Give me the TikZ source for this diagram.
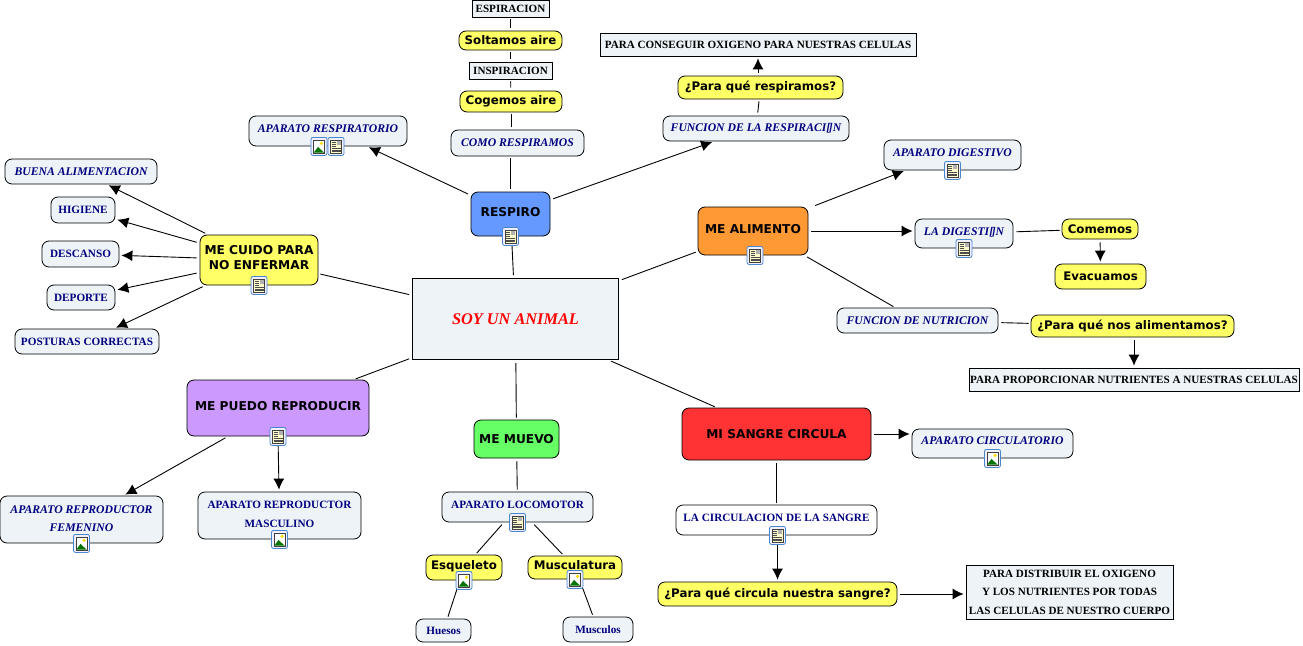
\documentclass[tikz,border=0pt]{standalone}
\usepackage{fontspec}
\setmainfont{Liberation Serif}
\setsansfont{DejaVu Sans}
\usetikzlibrary{arrows.meta,positioning}
\definecolor{mmpale}{HTML}{EDF3F6}
\definecolor{mmnavy}{HTML}{000080}
\definecolor{mmyellow}{HTML}{FFFF66}
\definecolor{mmblue}{HTML}{6699FF}
\definecolor{mmorange}{HTML}{FF9933}
\definecolor{mmpurple}{HTML}{CC99FF}
\definecolor{mmgreen}{HTML}{66FF66}
\definecolor{mmred}{HTML}{FF3333}
\definecolor{mmframe}{HTML}{4A86D0}
\tikzset{
  mm/root/.style={draw, line width=1pt, fill=mmpale, minimum width=206pt, minimum height=81pt, align=center, text=red, font=\fontsize{16.3}{18}\selectfont\bfseries\itshape},
  mm/main/.style={draw, line width=.8pt, rounded corners=7pt, inner sep=1pt, align=center, font=\fontsize{12.2}{15}\selectfont\sffamily\bfseries},
  mm/topic/.style={draw, line width=.8pt, fill=mmpale, rounded corners=7pt, inner sep=1pt, align=center, text=mmnavy, font=\fontsize{11.2}{12.5}\selectfont\bfseries},
  mm/topicit/.style={mm/topic, font=\fontsize{11.7}{12.5}\selectfont\bfseries\itshape},
  mm/ask/.style={draw, line width=.8pt, fill=mmyellow, rounded corners=7pt, inner sep=1pt, align=center, font=\fontsize{11.8}{13}\selectfont\sffamily\bfseries},
  mm/plain/.style={draw, line width=.8pt, fill=mmpale, inner sep=1pt, align=center, font=\fontsize{11.1}{12.5}\selectfont\bfseries},
  mm/icon/.style={text depth=5pt},
  mm/line/.style={line width=.9pt, shorten >=2pt, shorten <=3pt},
  mm/arrow/.style={mm/line, -{Latex[length=11pt,width=11pt]}},
  imgicon/.pic={
    \draw[mmframe, line width=.8pt, fill=blue!6, rounded corners=2pt] (-8,-9) rectangle (8,9);
    \draw[black!75, line width=.4pt, fill=white] (-5.5,-6.5) rectangle (5.5,6.5);
    \fill[yellow!80!orange] (2.5,-3) circle (1.8);
    \fill[green!45!black] (-5.3,6.3) -- (-1,0.5) -- (1,2.5) -- (5.3,6.3) -- cycle;
  },
  noteicon/.pic={
    \draw[mmframe, line width=.8pt, fill=blue!6, rounded corners=2pt] (-8,-9) rectangle (8,9);
    \draw[black!75, line width=.4pt, fill=yellow!20] (-5.5,-6.5) rectangle (5.5,6.5);
    \fill[gray!60] (0.5,-5.5) rectangle (4.5,-1.5);
    \foreach \yy in {-4.5,-2.5,-.5} \draw[black!70, line width=.5pt] (-4.5,\yy) -- (-.5,\yy);
    \foreach \yy in {1.5,3.5,5} \draw[black!70, line width=.5pt] (-4.5,\yy) -- (4.5,\yy);
  }
}
\begin{document}
\begin{tikzpicture}[x=1pt, y=-1pt]
  \useasboundingbox (0,0) rectangle (1303,645);

  % Centre and main branches
  \node[mm/root] (soy) at (515.5,319) {SOY UN ANIMAL};
  \node[mm/main, mm/icon, fill=mmblue, minimum width=79pt, minimum height=44pt] (resp) at (510.5,214) {RESPIRO};
  \node[mm/main, mm/icon, fill=mmorange, minimum width=110pt, minimum height=48pt] (alim) at (753,231) {ME ALIMENTO};
  \node[mm/main, mm/icon, fill=mmyellow, minimum width=118pt, minimum height=50pt] (cuido) at (259,260) {ME CUIDO PARA\\NO ENFERMAR};
  \node[mm/main, mm/icon, fill=mmpurple, minimum width=182pt, minimum height=56pt] (repro) at (278,408) {ME PUEDO REPRODUCIR};
  \node[mm/main, fill=mmgreen, minimum width=85pt, minimum height=38pt] (mueve) at (516.5,439) {ME MUEVO};
  \node[mm/main, fill=mmred, minimum width=189pt, minimum height=52pt] (sangre) at (776.5,434) {MI SANGRE CIRCULA};

  % Respiro
  \node[mm/topicit, mm/icon, minimum width=158pt, minimum height=30pt] (aresp) at (328,131) {APARATO RESPIRATORIO};
  \node[mm/topicit, minimum width=133pt, minimum height=26pt] (como) at (517.5,143) {COMO RESPIRAMOS};
  \node[mm/ask, minimum width=102pt, minimum height=21pt] (coge) at (511,101.5) {Cogemos aire};
  \node[mm/plain, minimum width=83pt, minimum height=17pt] (insp) at (510.5,70.5) {INSPIRACION};
  \node[mm/ask, minimum width=103pt, minimum height=19pt] (suelta) at (510.5,40.5) {Soltamos aire};
  \node[mm/plain, minimum width=77pt, minimum height=17pt] (espi) at (510.5,8.5) {ESPIRACION};
  \node[mm/topicit, minimum width=186pt, minimum height=25pt] (fresp) at (756,128.5) {FUNCION DE LA RESPIRACI[\kern-.12em]N};
  \node[mm/ask, minimum width=165pt, minimum height=23pt] (paraq) at (760.5,87.5) {¿Para qué respiramos?};
  \node[mm/plain, minimum width=316pt, minimum height=23pt] (oxi) at (758,44.5) {PARA CONSEGUIR OXIGENO PARA NUESTRAS CELULAS};

  % Me alimento
  \node[mm/topicit, mm/icon, minimum width=137pt, minimum height=30pt] (adig) at (952.5,155) {APARATO DIGESTIVO};
  \node[mm/topicit, mm/icon, minimum width=98pt, minimum height=29pt] (ladig) at (964,233.5) {LA DIGESTI[\kern-.12em]N};
  \node[mm/ask, minimum width=76pt, minimum height=20pt] (come) at (1100,229) {Comemos};
  \node[mm/ask, minimum width=91pt, minimum height=25pt] (evac) at (1100.5,276.5) {Evacuamos};
  \node[mm/topicit, minimum width=161pt, minimum height=25pt] (nutri) at (917.5,320.5) {FUNCION DE NUTRICION};
  \node[mm/ask, minimum width=203pt, minimum height=22pt] (paran) at (1132.5,326) {¿Para qué nos alimentamos?};
  \node[mm/plain, minimum width=330pt, minimum height=23pt] (prop) at (1134,379.5) {PARA PROPORCIONAR NUTRIENTES A NUESTRAS CELULAS};

  % Mi sangre circula
  \node[mm/topicit, mm/icon, minimum width=161pt, minimum height=29pt] (acirc) at (992.5,443.5) {APARATO CIRCULATORIO};
  \node[mm/topic, mm/icon, fill=white, minimum width=201pt, minimum height=30pt] (lacirc) at (776.5,520) {LA CIRCULACION DE LA SANGRE};
  \node[mm/ask, minimum width=239pt, minimum height=24pt] (parac) at (777.5,594) {¿Para qué circula nuestra sangre?};
  \node[mm/plain, minimum width=207pt, minimum height=54pt] (dist) at (1069.5,592) {PARA DISTRIBUIR EL OXIGENO\\[6pt]Y LOS NUTRIENTES POR TODAS\\[6pt]LAS CELULAS DE NUESTRO CUERPO};

  % Me muevo
  \node[mm/topic, mm/icon, minimum width=151pt, minimum height=30pt] (loco) at (517.5,507) {APARATO LOCOMOTOR};
  \node[mm/ask, mm/icon, minimum width=76pt, minimum height=25pt] (esq) at (464,567.5) {Esqueleto};
  \node[mm/ask, mm/icon, minimum width=94pt, minimum height=23pt] (musc) at (575,567.5) {Musculatura};
  \node[mm/topic, minimum width=55pt, minimum height=23pt] (hueso) at (443.5,630.5) {Huesos};
  \node[mm/topic, minimum width=70pt, minimum height=25pt] (muscs) at (598,629.5) {Musculos};

  % Me puedo reproducir
  \node[mm/topicit, mm/icon, text depth=2pt, minimum width=163pt, minimum height=47pt] (fem) at (81.5,519.5) {APARATO REPRODUCTOR\\[6pt]FEMENINO};
  \node[mm/topic, mm/icon, text depth=2pt, minimum width=163pt, minimum height=47pt] (masc) at (279.5,515.5) {APARATO REPRODUCTOR\\[6pt]MASCULINO};

  % Me cuido
  \node[mm/topicit, minimum width=152pt, minimum height=25pt] (buena) at (81,171.5) {BUENA ALIMENTACION};
  \node[mm/topic, minimum width=64pt, minimum height=26pt] (higi) at (83,210) {HIGIENE};
  \node[mm/topic, minimum width=77pt, minimum height=26pt] (desc) at (80.5,254) {DESCANSO};
  \node[mm/topic, minimum width=68pt, minimum height=25pt] (depo) at (81,297.5) {DEPORTE};
  \node[mm/topic, minimum width=144pt, minimum height=25pt] (post) at (87,341.5) {POSTURAS CORRECTAS};

  % Connectors
  \draw[mm/line] (soy) -- (resp);
  \draw[mm/line] (soy) -- (alim);
  \draw[mm/line] (soy) -- (cuido);
  \draw[mm/line] (soy) -- (repro);
  \draw[mm/line] (soy) -- (mueve);
  \draw[mm/line] (soy) -- (sangre);

  \draw[mm/arrow] (resp) -- ([xshift=39pt]aresp.south);
  \draw[mm/line] (resp) -- (como.south -| resp);
  \draw[mm/line] (como.north -| coge) -- (coge);
  \draw[mm/line] (coge) -- (insp);
  \draw[mm/line] (insp) -- (suelta);
  \draw[mm/line] (suelta) -- (espi);
  \draw[mm/arrow] (resp) -- ([xshift=-42pt]fresp.south);
  \draw[mm/line] (fresp) -- (paraq);
  \draw[mm/arrow] (paraq.north -| oxi) -- (oxi);

  \draw[mm/arrow] ([xshift=4pt]alim.north east) -- ([xshift=22pt]adig.south west);
  \draw[mm/arrow] (alim) -- (ladig.west |- alim);
  \draw[mm/line] (ladig) -- (come);
  \draw[mm/arrow] (come) -- (evac);
  \draw[mm/line] ([xshift=-4pt]alim.south east) -- (nutri);
  \draw[mm/line] (nutri) -- (paran);
  \draw[mm/arrow] (paran.south -| prop) -- (prop);

  \draw[mm/arrow] (sangre) -- (acirc.west |- sangre);
  \draw[mm/line] (sangre) -- (lacirc);
  \draw[mm/arrow] (lacirc.south -| parac) -- (parac);
  \draw[mm/arrow] (parac) -- (dist.west |- parac);

  \draw[mm/line] (mueve) -- (loco);
  \draw[mm/line] (loco) -- (esq);
  \draw[mm/line] (loco) -- (musc);
  \draw[mm/line] (esq) -- (hueso);
  \draw[mm/line] (musc) -- (muscs);

  \draw[mm/arrow] (repro) -- (fem);
  \draw[mm/arrow] (repro.south) -- (masc);

  \draw[mm/arrow] (cuido) -- (buena);
  \draw[mm/arrow] (cuido) -- (higi);
  \draw[mm/arrow] (cuido) -- (desc);
  \draw[mm/arrow] (cuido) -- (depo);
  \draw[mm/arrow] (cuido) -- (post);

  % Icons
  \pic at ([xshift=-9pt]aresp.south) {imgicon};
  \pic at ([xshift=8pt]aresp.south) {noteicon};
  \pic at (resp.south) {noteicon};
  \pic at ([xshift=2pt]alim.south) {noteicon};
  \pic at (cuido.south) {noteicon};
  \pic at (repro.south) {noteicon};
  \pic at (fem.south) {imgicon};
  \pic at (masc.south) {imgicon};
  \pic at (loco.south) {noteicon};
  \pic at (esq.south) {imgicon};
  \pic at (musc.south) {imgicon};
  \pic at ([xshift=1pt]lacirc.south) {noteicon};
  \pic at (acirc.south) {imgicon};
  \pic at (adig.south) {noteicon};
  \pic at (ladig.south) {noteicon};
\end{tikzpicture}
\end{document}
